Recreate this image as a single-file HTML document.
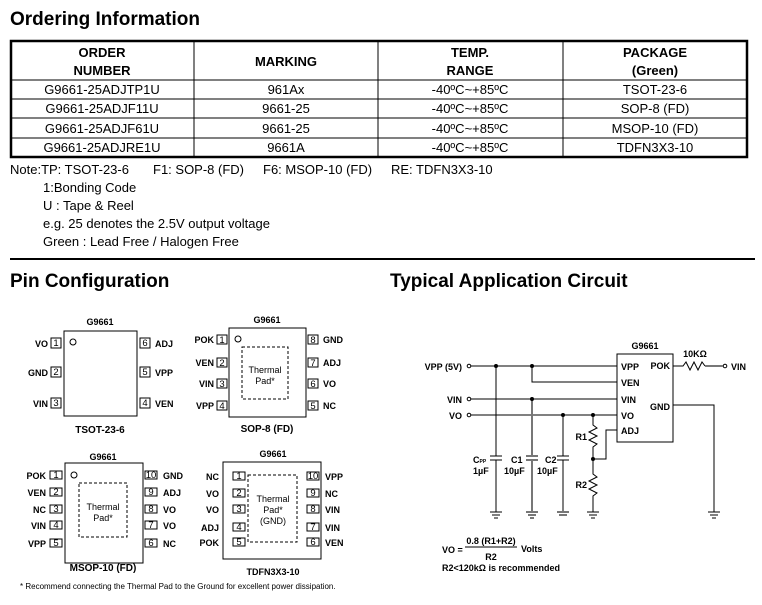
<!DOCTYPE html>
<html><head><meta charset="utf-8"><style>
html,body{margin:0;padding:0;background:#fff}
svg{display:block}
text{font-family:"Liberation Sans",Arial,sans-serif;fill:#000}
.b{font-weight:bold}
.t{font-size:13px}
.p{font-size:9px;font-weight:bold}
.pn{font-size:9.5px}
</style></head><body>
<svg width="762" height="605" viewBox="0 0 762 605" xmlns="http://www.w3.org/2000/svg">
<text x="10" y="25" class="b" font-size="19">Ordering Information</text>
<rect x="11" y="41" width="736" height="116" fill="none" stroke="#000" stroke-width="2.5"/>
<g stroke="#000" stroke-width="1">
<line x1="10" y1="80" x2="748" y2="80"/><line x1="10" y1="99" x2="748" y2="99"/>
<line x1="10" y1="118" x2="748" y2="118"/><line x1="10" y1="138" x2="748" y2="138"/>
<line x1="194" y1="40" x2="194" y2="157"/><line x1="378" y1="40" x2="378" y2="157"/><line x1="563" y1="40" x2="563" y2="157"/>
</g>
<g class="t" text-anchor="middle">
<text x="102" y="57" class="b">ORDER</text><text x="102" y="75" class="b">NUMBER</text>
<text x="286" y="66" class="b">MARKING</text>
<text x="470" y="57" class="b">TEMP.</text><text x="470" y="75" class="b">RANGE</text>
<text x="655" y="57" class="b">PACKAGE</text><text x="655" y="75" class="b">(Green)</text>
<text x="102" y="94">G9661-25ADJTP1U</text><text x="286" y="94">961Ax</text><text x="470" y="94">-40ºC~+85ºC</text><text x="655" y="94">TSOT-23-6</text>
<text x="102" y="113">G9661-25ADJF11U</text><text x="286" y="113">9661-25</text><text x="470" y="113">-40ºC~+85ºC</text><text x="655" y="113">SOP-8 (FD)</text>
<text x="102" y="133">G9661-25ADJF61U</text><text x="286" y="133">9661-25</text><text x="470" y="133">-40ºC~+85ºC</text><text x="655" y="133">MSOP-10 (FD)</text>
<text x="102" y="152">G9661-25ADJRE1U</text><text x="286" y="152">9661A</text><text x="470" y="152">-40ºC~+85ºC</text><text x="655" y="152">TDFN3X3-10</text>
</g>
<g class="t">
<text x="10" y="174">Note:TP: TSOT-23-6</text><text x="153" y="174">F1: SOP-8 (FD)</text><text x="263" y="174">F6: MSOP-10 (FD)</text><text x="391" y="174">RE: TDFN3X3-10</text>
<text x="43" y="192">1:Bonding Code</text>
<text x="43" y="210">U : Tape &amp; Reel</text>
<text x="43" y="228">e.g. 25 denotes the 2.5V output voltage</text>
<text x="43" y="246">Green : Lead Free / Halogen Free</text>
</g>
<line x1="10" y1="259" x2="755" y2="259" stroke="#000" stroke-width="2"/>
<text x="10" y="287" class="b" font-size="19">Pin Configuration</text>
<text x="390" y="287" class="b" font-size="19">Typical Application Circuit</text>

<g fill="none" stroke="#000" stroke-width="1">
<rect x="64" y="331" width="73" height="85"/><circle cx="73" cy="342" r="3"/>
<rect x="51" y="338" width="10" height="10"/><rect x="51" y="367" width="10" height="10"/><rect x="51" y="398" width="10" height="10"/>
<rect x="140" y="338" width="10" height="10"/><rect x="140" y="367" width="10" height="10"/><rect x="140" y="398" width="10" height="10"/>
<rect x="229" y="328" width="77" height="89"/><circle cx="238" cy="339" r="3"/>
<rect x="242" y="347" width="46" height="52" stroke-dasharray="3,2"/>
<rect x="217" y="335" width="10" height="9"/><rect x="217" y="358" width="10" height="9"/><rect x="217" y="379" width="10" height="9"/><rect x="217" y="401" width="10" height="9"/>
<rect x="308" y="335" width="10" height="9"/><rect x="308" y="358" width="10" height="9"/><rect x="308" y="379" width="10" height="9"/><rect x="308" y="401" width="10" height="9"/>
<rect x="65" y="463" width="78" height="100"/><circle cx="74" cy="475" r="3"/>
<rect x="79" y="483" width="48" height="54" stroke-dasharray="3,2"/>
<rect x="50" y="471" width="12" height="8"/><rect x="50" y="488" width="12" height="8"/><rect x="50" y="505" width="12" height="8"/><rect x="50" y="521" width="12" height="8"/><rect x="50" y="539" width="12" height="8"/>
<rect x="145" y="471" width="12" height="8"/><rect x="145" y="488" width="12" height="8"/><rect x="145" y="505" width="12" height="8"/><rect x="145" y="521" width="12" height="8"/><rect x="145" y="539" width="12" height="8"/>
<rect x="223" y="462" width="98" height="97"/>
<rect x="248" y="475" width="49" height="67" stroke-dasharray="3,2"/>
<rect x="233" y="472" width="12" height="8"/><rect x="233" y="489" width="12" height="8"/><rect x="233" y="505" width="12" height="8"/><rect x="233" y="523" width="12" height="8"/><rect x="233" y="538" width="12" height="8"/>
<rect x="307" y="472" width="12" height="8"/><rect x="307" y="489" width="12" height="8"/><rect x="307" y="505" width="12" height="8"/><rect x="307" y="523" width="12" height="8"/><rect x="307" y="538" width="12" height="8"/>
</g>
<g class="p">
<text x="100" y="325" text-anchor="middle">G9661</text>
<text x="48" y="347" text-anchor="end">VO</text><text x="48" y="376" text-anchor="end">GND</text><text x="48" y="407" text-anchor="end">VIN</text>
<text x="155" y="347">ADJ</text><text x="155" y="376">VPP</text><text x="155" y="407">VEN</text>
<text x="100" y="433" text-anchor="middle" font-size="10">TSOT-23-6</text>
<text x="267" y="323" text-anchor="middle">G9661</text>
<text x="214" y="343" text-anchor="end">POK</text><text x="214" y="366" text-anchor="end">VEN</text><text x="214" y="387" text-anchor="end">VIN</text><text x="214" y="409" text-anchor="end">VPP</text>
<text x="323" y="343">GND</text><text x="323" y="366">ADJ</text><text x="323" y="387">VO</text><text x="323" y="409">NC</text>
<text x="267" y="432" text-anchor="middle" font-size="10">SOP-8 (FD)</text>
<text x="103" y="460" text-anchor="middle">G9661</text>
<text x="46" y="479" text-anchor="end">POK</text><text x="46" y="496" text-anchor="end">VEN</text><text x="46" y="513" text-anchor="end">NC</text><text x="46" y="529" text-anchor="end">VIN</text><text x="46" y="547" text-anchor="end">VPP</text>
<text x="163" y="479">GND</text><text x="163" y="496">ADJ</text><text x="163" y="513">VO</text><text x="163" y="529">VO</text><text x="163" y="547">NC</text>
<text x="103" y="571" text-anchor="middle" font-size="10">MSOP-10 (FD)</text>
<text x="273" y="457" text-anchor="middle">G9661</text>
<text x="219" y="480" text-anchor="end">NC</text><text x="219" y="497" text-anchor="end">VO</text><text x="219" y="513" text-anchor="end">VO</text><text x="219" y="531" text-anchor="end">ADJ</text><text x="219" y="546" text-anchor="end">POK</text>
<text x="325" y="480">VPP</text><text x="325" y="497">NC</text><text x="325" y="513">VIN</text><text x="325" y="531">VIN</text><text x="325" y="546">VEN</text>
<text x="273" y="575" text-anchor="middle">TDFN3X3-10</text>
</g>
<g class="pn" text-anchor="middle" font-size="8">
<text x="56" y="346">1</text><text x="56" y="375">2</text><text x="56" y="406">3</text>
<text x="145" y="346">6</text><text x="145" y="375">5</text><text x="145" y="406">4</text>
<text x="222" y="343">1</text><text x="222" y="366">2</text><text x="222" y="387">3</text><text x="222" y="409">4</text>
<text x="313" y="343">8</text><text x="313" y="366">7</text><text x="313" y="387">6</text><text x="313" y="409">5</text>
<text x="56" y="478">1</text><text x="56" y="495">2</text><text x="56" y="512">3</text><text x="56" y="528">4</text><text x="56" y="546">5</text>
<text x="151" y="478">10</text><text x="151" y="495">9</text><text x="151" y="512">8</text><text x="151" y="528">7</text><text x="151" y="546">6</text>
<text x="239" y="479">1</text><text x="239" y="496">2</text><text x="239" y="512">3</text><text x="239" y="530">4</text><text x="239" y="545">5</text>
<text x="313" y="479">10</text><text x="313" y="496">9</text><text x="313" y="512">8</text><text x="313" y="530">7</text><text x="313" y="545">6</text>
</g>
<g font-size="9" text-anchor="middle">
<text x="265" y="373">Thermal</text><text x="265" y="384">Pad*</text>
<text x="103" y="510">Thermal</text><text x="103" y="521">Pad*</text>
<text x="273" y="502">Thermal</text><text x="273" y="513">Pad*</text><text x="273" y="524">(GND)</text>
</g>
<text x="20" y="589" font-size="8">* Recommend connecting the Thermal Pad  to the Ground for excellent power dissipation.</text>

<g fill="none" stroke="#000" stroke-width="1">
<rect x="617" y="354" width="56" height="88"/>
<circle cx="469" cy="366" r="1.8"/><circle cx="469" cy="399" r="1.8"/><circle cx="469" cy="415" r="1.8"/><circle cx="725" cy="366" r="1.8"/>
<line x1="471" y1="366" x2="617" y2="366"/>
<polyline points="532,366 532,382 617,382"/>
<line x1="471" y1="399" x2="617" y2="399"/>
<line x1="471" y1="415" x2="617" y2="415"/>
<polyline points="617,430 606,430 606,459 593,459"/>
<line x1="496" y1="366" x2="496" y2="456"/><line x1="496" y1="460" x2="496" y2="512"/>
<line x1="490" y1="456" x2="502" y2="456"/><line x1="490" y1="460" x2="502" y2="460"/>
<line x1="563" y1="415" x2="563" y2="456"/><line x1="563" y1="460" x2="563" y2="512"/>
<line x1="557" y1="456" x2="569" y2="456"/><line x1="557" y1="460" x2="569" y2="460"/>
<polyline points="593,415 593,425 597,428 589,432 597,436 589,440 597,444 593,447 593,474 597,477 589,481 597,485 589,489 597,493 593,496 593,512"/>
<polyline points="673,405 714,405 714,512"/>
<polyline points="673,366 683,366 686,362 690,370 694,362 698,370 702,362 705,366"/>
<line x1="490" y1="512" x2="502" y2="512"/><line x1="492" y1="515" x2="500" y2="515"/><line x1="494" y1="518" x2="498" y2="518"/>
<line x1="587" y1="512" x2="599" y2="512"/><line x1="589" y1="515" x2="597" y2="515"/><line x1="591" y1="518" x2="595" y2="518"/>
<line x1="708" y1="512" x2="720" y2="512"/><line x1="710" y1="515" x2="718" y2="515"/><line x1="712" y1="518" x2="716" y2="518"/>
<line x1="465" y1="547" x2="517" y2="547"/>
</g>
<g stroke="#777" fill="none" stroke-width="2">
<line x1="532" y1="399" x2="532" y2="456"/><line x1="532" y1="460" x2="532" y2="512"/>
<line x1="526" y1="456" x2="538" y2="456"/><line x1="526" y1="460" x2="538" y2="460"/>
<line x1="526" y1="512" x2="538" y2="512"/><line x1="528" y1="515" x2="536" y2="515"/><line x1="530" y1="518" x2="534" y2="518"/>
<line x1="557" y1="512" x2="569" y2="512"/><line x1="559" y1="515" x2="567" y2="515"/>
<line x1="705" y1="366" x2="723" y2="366"/>
</g>
<g fill="#000">
<circle cx="496" cy="366" r="2"/><circle cx="532" cy="366" r="2"/><circle cx="532" cy="399" r="2"/>
<circle cx="563" cy="415" r="2"/><circle cx="593" cy="415" r="2"/><circle cx="593" cy="459" r="2"/>
</g>
<g font-size="9" class="b">
<text x="645" y="349" text-anchor="middle">G9661</text>
<text x="621" y="370">VPP</text><text x="621" y="386">VEN</text><text x="621" y="403">VIN</text><text x="621" y="419">VO</text><text x="621" y="434">ADJ</text>
<text x="670" y="369" text-anchor="end">POK</text><text x="670" y="410" text-anchor="end">GND</text>
<text x="462" y="370" text-anchor="end">VPP (5V)</text><text x="462" y="403" text-anchor="end">VIN</text><text x="462" y="419" text-anchor="end">VO</text>
<text x="731" y="370">VIN</text><text x="695" y="357" text-anchor="middle">10KΩ</text>
<text x="473" y="463">C<tspan font-size="5">PP</tspan></text><text x="473" y="474">1µF</text>
<text x="511" y="463">C1</text><text x="504" y="474">10µF</text>
<text x="545" y="463">C2</text><text x="537" y="474">10µF</text>
<text x="587" y="440" text-anchor="end">R1</text><text x="587" y="488" text-anchor="end">R2</text>
<text x="442" y="553">VO =</text><text x="491" y="544" text-anchor="middle">0.8 (R1+R2)</text><text x="491" y="560" text-anchor="middle">R2</text>
<text x="521" y="552">Volts</text><text x="442" y="571">R2&lt;120kΩ is recommended</text>
</g>
</svg>
</body></html>
